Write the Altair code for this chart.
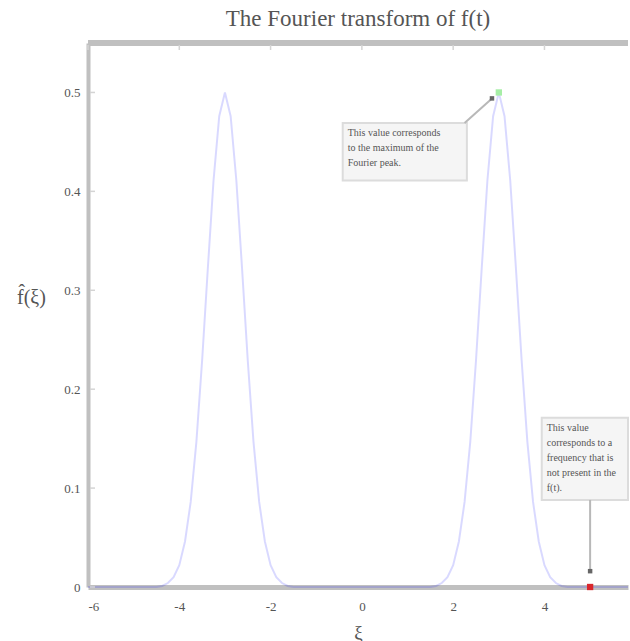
import altair as alt
import pandas as pd

# ---- data ----
xi = [-6.0, -4.5, -4.375, -4.25, -4.125, -4.0, -3.875, -3.75, -3.625, -3.5, -3.375,
      -3.25, -3.125, -3.0, -2.875, -2.75, -2.625, -2.5, -2.375, -2.25, -2.125, -2.0,
      -1.875, -1.75, -1.625, -1.5,
      1.5, 1.625, 1.75, 1.875, 2.0, 2.125, 2.25, 2.375, 2.5, 2.625, 2.75, 2.875, 3.0,
      3.125, 3.25, 3.375, 3.5, 3.625, 3.75, 3.875, 4.0, 4.125, 4.25, 4.375, 4.5, 5.83]
fhat = [0.0, 0.0, 0.001, 0.004, 0.010, 0.022, 0.046, 0.086, 0.147, 0.229, 0.322,
        0.411, 0.476, 0.500, 0.476, 0.411, 0.322, 0.229, 0.147, 0.086, 0.046, 0.022,
        0.010, 0.004, 0.001, 0.0,
        0.0, 0.001, 0.004, 0.010, 0.022, 0.046, 0.086, 0.147, 0.229, 0.322, 0.411, 0.476, 0.500,
        0.476, 0.411, 0.322, 0.229, 0.147, 0.086, 0.046, 0.022, 0.010, 0.004, 0.001, 0.0, 0.0]

x_ticks = [-6, -4, -2, 0, 2, 4]
y_ticks = [0, 0.1, 0.2, 0.3, 0.4, 0.5]
X_MIN, X_MAX = -6.0, 5.83
Y_MIN, Y_MAX = 0.0, 0.55

# annotation boxes (data coordinates)
box_x1 = [-0.42, 3.94]
box_x2 = [2.30, 5.83]
box_y1 = [0.469, 0.171]
box_y2 = [0.411, 0.088]
box_text = [
    "This value corresponds\nto the maximum of the\nFourier peak.",
    "This value\ncorresponds to a\nfrequency that is\nnot present in the\nf(t).",
]
# connectors (data coordinates)
con_x1 = [2.25, 5.0]
con_y1 = [0.469, 0.088]
con_x2 = [2.85, 5.0]
con_y2 = [0.494, 0.016]
# highlighted points
mark_x = [3.0, 5.0]
mark_y = [0.5, 0.0]
mark_col = ["#a6eea6", "#d9262b"]

W, H = 540, 544
FONT = "Liberation Serif"

curve = pd.DataFrame({"xi": xi, "fhat": fhat})
boxes = pd.DataFrame({"x1": box_x1, "x2": box_x2, "y1": box_y1, "y2": box_y2, "t": box_text})
cons = pd.DataFrame({"x1": con_x1, "y1": con_y1, "x2": con_x2, "y2": con_y2})
marks = pd.DataFrame({"x": mark_x, "y": mark_y, "c": mark_col})
xt = pd.DataFrame({"x": x_ticks})
yt = pd.DataFrame({"y": y_ticks})

xscale = alt.Scale(domain=[X_MIN, X_MAX], nice=False, zero=False)
yscale = alt.Scale(domain=[Y_MIN, Y_MAX], nice=False)

xaxis = alt.Axis(values=x_ticks, labelExpr="replace(format(datum.value, 'd'), '−', '-')",
                 ticks=False, grid=False,
                 domainColor="#c0c0c0", domainWidth=5, labelFont=FONT, labelFontSize=13,
                 labelColor="#555555", labelPadding=13, title="ξ", titleFont=FONT,
                 titleFontSize=19, titleFontWeight="normal", titleColor="#555555",
                 titlePadding=10)
yaxis = alt.Axis(values=y_ticks, labelExpr="datum.value == 0 ? '0' : format(datum.value, '.1f')",
                 ticks=False, grid=False, domainColor="#c0c0c0", domainWidth=4,
                 labelFont=FONT, labelFontSize=13, labelColor="#555555", labelPadding=8,
                 title="f̂(ξ)", titleAngle=0, titleFont=FONT, titleFontSize=20,
                 titleFontWeight="normal", titleColor="#555555", titleAlign="center",
                 titleBaseline="middle", titleX=-57, titleY=254)

line = alt.Chart(curve).mark_line(color="blue", opacity=0.15, strokeWidth=2).encode(
    x=alt.X("xi:Q", scale=xscale, axis=xaxis),
    y=alt.Y("fhat:Q", scale=yscale, axis=yaxis),
)

top = alt.Chart(xt).mark_rule(color="#c0c0c0", strokeWidth=5).encode(
    x=alt.value(0), x2=alt.value(W), y=alt.datum(Y_MAX)
)
top_ticks = alt.Chart(xt).mark_rule(color="#d4d4d4", strokeWidth=1.5).encode(
    x="x:Q", y=alt.value(2), y2=alt.value(7)
)
left_ticks = alt.Chart(yt).mark_rule(color="#d4d4d4", strokeWidth=1.5).encode(
    y="y:Q", x=alt.value(2), x2=alt.value(7)
)

rects = alt.Chart(boxes).mark_rect(fill="#f5f5f5", stroke="#dcdcdc", strokeWidth=2).encode(
    x="x1:Q", x2="x2:Q", y="y1:Q", y2="y2:Q"
)
texts = alt.Chart(boxes).mark_text(align="left", baseline="top", dx=5, dy=5, lineBreak="\n",
                                   font=FONT, fontSize=10, lineHeight=15,
                                   color="#555555").encode(
    x="x1:Q", y="y1:Q", text="t:N"
)
rules = alt.Chart(cons).mark_rule(color="#b8b8b8", strokeWidth=2).encode(
    x="x1:Q", y="y1:Q", x2="x2:Q", y2="y2:Q"
)
tips = alt.Chart(cons).mark_point(shape="square", filled=True, color="#666666",
                                  size=20, opacity=1).encode(x="x2:Q", y="y2:Q")
pts = alt.Chart(marks).mark_point(shape="square", filled=True, size=40, opacity=1).encode(
    x="x:Q", y="y:Q", color=alt.Color("c:N", scale=None)
)

chart = alt.layer(line, top, top_ticks, left_ticks, rects, texts, rules, tips, pts).properties(
    width=W, height=H,
    title=alt.TitleParams("The Fourier transform of f(t)", font=FONT, fontSize=23,
                          fontWeight="normal", color="#555555", offset=10),
    autosize=alt.AutoSizeParams(type="none"),
    padding={"left": 88, "top": 43, "right": 2, "bottom": 54},
).configure_view(stroke=None)

chart.save("out.html", embed_options={"renderer": "svg", "actions": False})
